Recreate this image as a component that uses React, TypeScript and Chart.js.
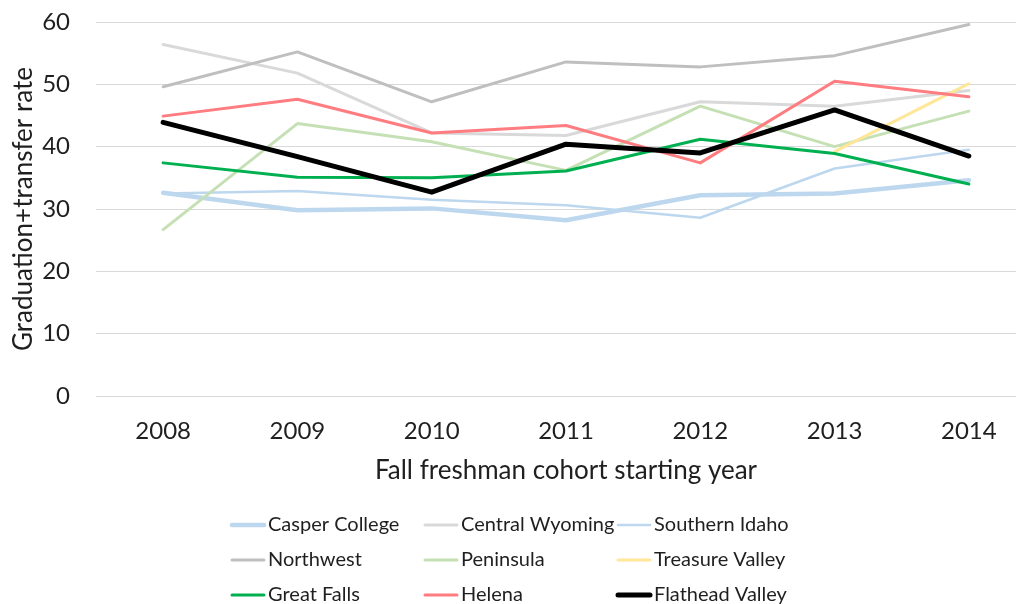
import React, { useEffect, useRef } from 'react';
import { Chart, registerables } from 'chart.js';

Chart.register(...registerables);

const years = ['2008', '2009', '2010', '2011', '2012', '2013', '2014'];
const casperCollege = [32.6, 29.8, 30.1, 28.2, 32.2, 32.5, 34.6];
const centralWyoming = [56.4, 51.8, 42.2, 41.8, 47.2, 46.5, 49.0];
const southernIdaho = [32.5, 32.9, 31.5, 30.6, 28.6, 36.5, 39.5];
const northwest = [49.6, 55.2, 47.2, 53.6, 52.8, 54.6, 59.6];
const peninsula = [26.7, 43.7, 40.8, 36.2, 46.5, 40.0, 45.7];
const treasureValley = [null, null, null, null, null, 39.2, 50.1];
const greatFalls = [37.4, 35.1, 35.0, 36.1, 41.2, 38.9, 34.0];
const helena = [44.9, 47.6, 42.2, 43.4, 37.4, 50.5, 48.0];
const flatheadValley = [43.9, 38.4, 32.7, 40.4, 39.0, 45.9, 38.5];

const seriesNames = [
  'Casper College', 'Central Wyoming', 'Southern Idaho',
  'Northwest', 'Peninsula', 'Treasure Valley',
  'Great Falls', 'Helena', 'Flathead Valley',
];
const seriesValues = [
  casperCollege, centralWyoming, southernIdaho,
  northwest, peninsula, treasureValley,
  greatFalls, helena, flatheadValley,
];
const seriesColors = [
  '#bdd7ee', '#d9d9d9', '#bdd7ee',
  '#bfbfbf', '#c5e0b4', '#ffe699',
  '#00b050', '#ff7c80', '#000000',
];
const seriesWidths = [4.5, 3, 2.5, 3, 3, 3, 3, 3, 5];

const yMin = 0;
const yMax = 60;
const yStep = 10;

const FONT = 'Lato, "Open Sans", sans-serif';
const TEXT = '#1f1f1f';

const legendPlugin = {
  id: 'gridLegend',
  afterDraw(chart: any) {
    const ctx = chart.ctx;
    const colX = [232, 425, 618];
    const rowY = [525, 560, 595];
    ctx.save();
    chart.data.datasets.forEach((ds: any, i: number) => {
      const x = colX[i % 3];
      const y = rowY[Math.floor(i / 3)];
      ctx.beginPath();
      ctx.strokeStyle = ds.borderColor;
      ctx.lineWidth = ds.borderWidth;
      ctx.lineCap = 'round';
      ctx.moveTo(x, y);
      ctx.lineTo(x + 32, y);
      ctx.stroke();
      ctx.fillStyle = TEXT;
      ctx.font = `20px ${FONT}`;
      ctx.textBaseline = 'middle';
      ctx.textAlign = 'left';
      ctx.fillText(ds.label, x + 36, y);
    });
    ctx.restore();
  },
};

export default function App() {
  const ref = useRef<HTMLCanvasElement | null>(null);

  useEffect(() => {
    document.body.style.margin = '0';
    const canvas = ref.current;
    if (!canvas) return;
    const chart = new Chart(canvas, {
      type: 'line',
      data: {
        labels: years,
        datasets: seriesNames.map((name, i) => ({
          label: name,
          data: seriesValues[i],
          borderColor: seriesColors[i],
          backgroundColor: seriesColors[i],
          borderWidth: seriesWidths[i],
          pointRadius: 0,
          pointHoverRadius: 0,
          tension: 0,
          fill: false,
          spanGaps: false,
          borderJoinStyle: 'round',
          borderCapStyle: 'round',
          order: seriesNames.length - 1 - i,
        })),
      },
      options: {
        responsive: false,
        animation: false,
        devicePixelRatio: 1,
        layout: { padding: { left: 0, right: 4, top: 22, bottom: 108 } },
        plugins: {
          legend: { display: false },
          tooltip: { enabled: false },
        },
        scales: {
          x: {
            type: 'category',
            offset: true,
            grid: { display: false, drawTicks: false },
            border: { display: false },
            ticks: {
              color: TEXT,
              font: { family: FONT, size: 24 },
              padding: 21,
              maxRotation: 0,
            },
            title: {
              display: true,
              text: 'Fall freshman cohort starting year',
              color: TEXT,
              font: { family: FONT, size: 26 },
              padding: { top: 0, bottom: 10 },
            },
            afterFit(scale: any) {
              scale.height = 100;
            },
          },
          y: {
            min: yMin,
            max: yMax,
            grid: {
              color: '#d9d9d9',
              lineWidth: 1,
              drawTicks: true,
              tickLength: 26,
              tickColor: 'rgba(0,0,0,0)',
            },
            border: { display: false },
            ticks: {
              stepSize: yStep,
              color: TEXT,
              font: { family: FONT, size: 24 },
              padding: 0,
            },
            title: {
              display: true,
              text: 'Graduation+transfer rate',
              color: TEXT,
              font: { family: FONT, size: 26 },
              padding: { top: 8, bottom: 0 },
            },
            afterFit(scale: any) {
              scale.width = 96;
            },
          },
        },
      },
      plugins: [legendPlugin],
    });
    return () => chart.destroy();
  }, []);

  return (
    <div
      style={{
        position: 'fixed',
        left: 0,
        top: 0,
        width: 1016,
        height: 604,
        overflow: 'hidden',
        background: '#fff',
      }}
    >
      <canvas ref={ref} width={1040} height={604} style={{ display: 'block', width: 1040, height: 604 }} />
    </div>
  );
}
